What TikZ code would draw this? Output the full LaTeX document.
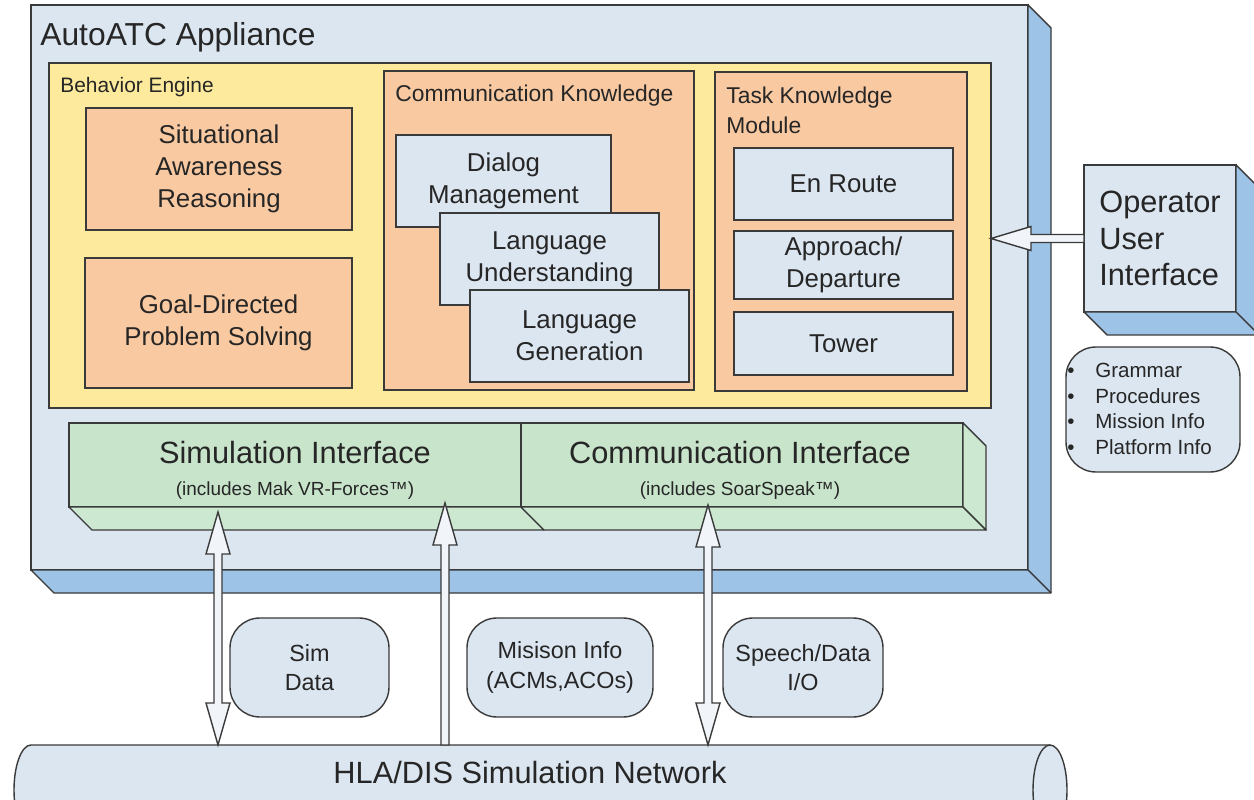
\documentclass[tikz,border=0pt]{standalone}
\usepackage{fontspec}
\setmainfont{Liberation Sans}
\usetikzlibrary{calc}

\definecolor{cPanel}{HTML}{DCE6F0}
\definecolor{cDepth}{HTML}{9DC3E6}
\definecolor{cEngine}{HTML}{FDEA9C}
\definecolor{cModule}{HTML}{F9C9A1}
\definecolor{cIface}{HTML}{C8E4CB}
\definecolor{cIfaceSide}{HTML}{CDE8D0}
\definecolor{cInk}{HTML}{262626}
\definecolor{cEdge}{HTML}{3A3A3A}

% font size in pt with explicit line pitch
\newcommand\fsz[2]{\fontsize{#1}{#2}\selectfont}
% rectangle node given by its corners: style, x1, y1, x2, y2, name
\newcommand\rectnode[6]{\node[#1, minimum width={(#4-#2)*0.02cm}, minimum height={(#5-#3)*0.02cm}] (#6) at ({(#2+#4)/2},{(#3+#5)/2})}
% hollow block arrows
\newcommand\twowayarrow[2]{\filldraw[hollow] (#1) -- ++(12,42) -- ++(-8,0) -- ($(#2)+(4,-42)$) -- ++(8,0) -- (#2) -- ++(-12,-42) -- ++(8,0) -- ($(#1)+(-4,42)$) -- ++(-8,0) -- cycle;}
\newcommand\onewayarrow[2]{\filldraw[hollow] (#1) -- ++(12,42) -- ++(-8,0) -- ($(#2)+(4,0)$) -- ($(#2)+(-4,0)$) -- ($(#1)+(-4,42)$) -- ++(-8,0) -- cycle;}
\newcommand\leftwardarrow[2]{\filldraw[hollow] (#1) -- ++(40,-12) -- ++(0,8) -- ($(#2)+(0,-4)$) -- ($(#2)+(0,4)$) -- ($(#1)+(40,4)$) -- ++(0,8) -- cycle;}

\begin{document}
\begin{tikzpicture}[x=0.02cm, y=-0.02cm,
  every node/.style={text=cInk},
  outline/.style={draw=cEdge, line width=0.8pt, outer sep=0pt},
  face/.style={outline, fill=cPanel},
  deep/.style={outline, fill=cDepth, line join=round},
  enginebox/.style={outline, fill=cEngine},
  modulebox/.style={outline, fill=cModule},
  boxtext/.style={align=center, font=\fsz{14.7}{18.2}},
  subbox/.style={face, boxtext},
  ifacebox/.style={outline, fill=cIface},
  ifacedeep/.style={outline, fill=cIfaceSide, line join=round},
  tagbox/.style={outline, fill=cPanel, rounded corners=0.6cm, align=center, font=\fsz{13.3}{16.6}},
  caption/.style={inner sep=0pt},
  hollow/.style={draw=cEdge, line width=0.8pt, fill=cPanel!40!white, line join=miter},
]
\clip (0,0) rectangle (1254,800);
\fill[white] (0,0) rectangle (1254,800);

% appliance housing
\rectnode{face}{31}{5}{1028}{570}{app}{};
\draw[deep] (app.north east) -- ++(23,23) -- ($(app.south east)+(23,23)$) -- ($(app.south west)+(23,23)$) -- (app.south west) -- (app.south east) -- cycle;
\draw[outline] (app.south east) -- ++(23,23);
\node[caption, anchor=base west, font=\fsz{18.1}{22}] (apptitle) at (40,46) {AutoATC Appliance};

% behavior engine
\rectnode{enginebox}{49}{63}{991}{408}{eng}{};
\node[caption, anchor=base west, font=\fsz{11.9}{14}] (engtitle) at (60,93) {Behavior Engine};
\rectnode{modulebox, boxtext}{86}{108}{352}{230}{sa}{Situational\\Awareness\\Reasoning};
\rectnode{modulebox, boxtext}{85}{258}{352}{388}{gd}{Goal-Directed\\Problem Solving};

% communication knowledge
\rectnode{modulebox}{384}{71}{694}{390}{ck}{};
\node[caption, anchor=base west, font=\fsz{13}{16}] (cktitle) at (395,102) {Communication Knowledge};
\rectnode{subbox}{396}{135}{611}{227}{dm}{Dialog\\Management};
\rectnode{subbox}{440}{213}{659}{305}{lu}{Language\\Understanding};
\rectnode{subbox}{470}{290}{689}{382}{lg}{Language\\Generation};

% task knowledge
\rectnode{modulebox}{715}{72}{967}{391}{tk}{};
\node[caption, anchor=north west, align=left, font=\fsz{13}{17}] (tktitle) at (726,87) {Task Knowledge\\Module};
\rectnode{subbox}{734}{148}{953}{220}{er}{En Route};
\rectnode{subbox}{734}{233}{953}{297}{ad}{Approach/\\Departure};
\rectnode{subbox}{734}{312}{953}{375}{tw}{Tower};

% interface layer
\rectnode{ifacebox}{69}{423}{521}{507}{simif}{};
\rectnode{ifacebox}{521}{423}{963}{507}{comif}{};
\draw[ifacedeep] (simif.south west) -- (simif.south east) -- ++(23,23) -- ($(simif.south west)+(23,23)$) -- cycle;
\draw[ifacedeep] (comif.south west) -- (comif.south east) -- ++(23,23) -- ($(comif.south west)+(23,23)$) -- cycle;
\draw[ifacedeep] (comif.north east) -- ++(23,23) -- ($(comif.south east)+(23,23)$) -- (comif.south east) -- cycle;
\node[caption, anchor=base, font=\fsz{17.5}{20}] (simt) at (295,463) {Simulation Interface};
\node[caption, anchor=base, font=\fsz{10.8}{13}] (sims) at (295,495) {(includes Mak VR-Forces™)};
\node[caption, anchor=base, font=\fsz{17.5}{20}] (comt) at (740,463) {Communication Interface};
\node[caption, anchor=base, font=\fsz{10.8}{13}] (coms) at (740,495) {(includes SoarSpeak™)};

% operator console
\rectnode{face, align=left, font=\fsz{17.5}{20.8}}{1084}{165}{1236}{312}{op}{Operator\\User\\Interface};
\draw[deep] (op.north east) -- ++(23,23) -- ($(op.south east)+(23,23)$) -- ($(op.south west)+(23,23)$) -- (op.south west) -- (op.south east) -- cycle;
\draw[outline] (op.south east) -- ++(23,23);

% knowledge sources
\rectnode{tagbox}{1066}{347}{1240}{472}{kb}{};
\node[caption, anchor=west, align=left, font=\fsz{11.7}{14.6}] (kbtext) at (1067,409)
  {\makebox[0.56cm][l]{\textbullet}Grammar\\\makebox[0.56cm][l]{\textbullet}Procedures\\\makebox[0.56cm][l]{\textbullet}Mission Info\\\makebox[0.56cm][l]{\textbullet}Platform Info};

% data exchanged with the network
\rectnode{tagbox}{230}{618}{389}{717}{simdata}{Sim\\Data};
\rectnode{tagbox}{467}{618}{653}{717}{mission}{Misison Info\\(ACMs,ACOs)};
\rectnode{tagbox}{723}{618}{883}{717}{speech}{Speech/Data\\I/O};

% simulation network pipe
\filldraw[fill=cPanel, draw=cEdge, line width=0.8pt] (1050,745) -- (31,745) arc[start angle=90, end angle=270, x radius=0.34cm, y radius=0.9cm] -- (1050,835);
\filldraw[fill=cPanel, draw=cEdge, line width=0.8pt] (1050,790) ellipse [x radius=0.34cm, y radius=0.9cm];
\node[caption, anchor=base, font=\fsz{17.5}{20}] (net) at (530,783) {HLA/DIS Simulation Network};

% links
\coordinate (s1top) at (218,512);
\coordinate (s1bot) at (218,745);
\coordinate (s2top) at (445,503);
\coordinate (s2bot) at (445,745);
\coordinate (c1top) at (708,505);
\coordinate (c1bot) at (708,745);
\coordinate (optip) at (eng.east |- op.west);
\twowayarrow{s1top}{s1bot}
\onewayarrow{s2top}{s2bot}
\twowayarrow{c1top}{c1bot}
\leftwardarrow{optip}{op.west}
\end{tikzpicture}
\end{document}
